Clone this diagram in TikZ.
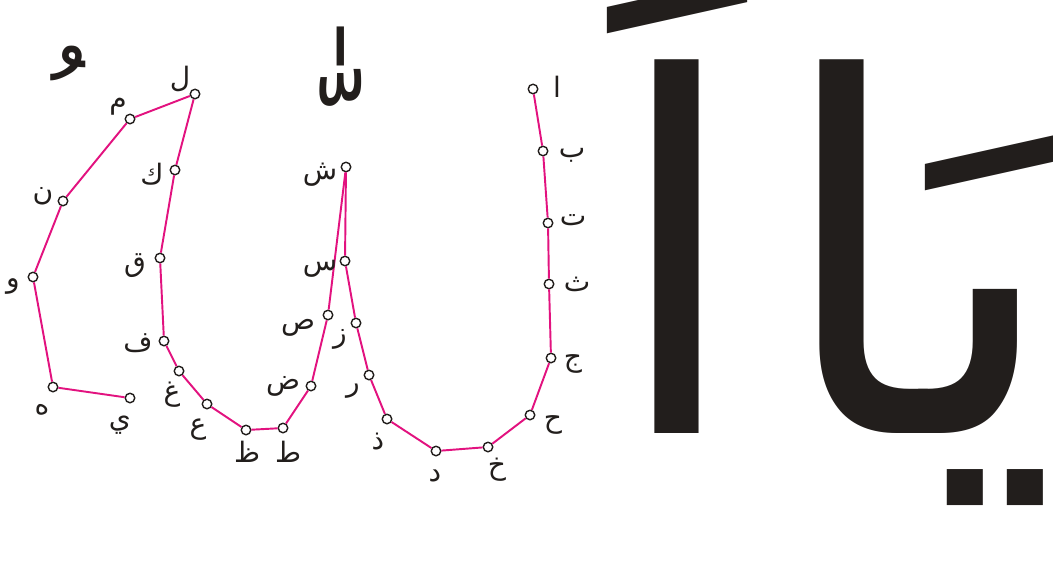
\documentclass[tikz,border=0pt]{standalone}
\usepackage{fontspec}
\newfontfamily\arabicfont[Script=Arabic]{DejaVu Sans}
\TeXXeTstate=1
\usepackage{xcolor}
\definecolor{DotPink}{HTML}{E2127F}
\definecolor{InkBlack}{HTML}{221E1C}
\usetikzlibrary{positioning}
\newcommand{\ar}[1]{{\arabicfont\beginR #1\endR}}

\begin{document}
\begin{tikzpicture}[x=0.02cm,y=-0.02cm, dot/.style={draw=InkBlack,circle,line width=0.8pt,inner sep=0pt,minimum size=0.19cm}, lbl/.style={font=\fontsize{16}{18}\selectfont,text=InkBlack,inner sep=0pt}, path/.style={draw=DotPink,line width=1.1pt}, big/.style={text=InkBlack,inner sep=0pt,anchor=base}]
\useasboundingbox (0,0) rectangle (1053,566);
% dots, in the order of the alphabet
\node[dot] (alif) at (533,89) {};
\node[dot] (baa) at (543,151) {};
\node[dot] (taa) at (548,223) {};
\node[dot] (thaa) at (549,284) {};
\node[dot] (jeem) at (551,358) {};
\node[dot] (haa) at (530,415) {};
\node[dot] (khaa) at (488,447) {};
\node[dot] (daal) at (436,451) {};
\node[dot] (thaal) at (387,419) {};
\node[dot] (raa) at (369,375) {};
\node[dot] (zay) at (356,323) {};
\node[dot] (seen) at (345,261) {};
\node[dot] (sheen) at (346,167) {};
\node[dot] (saad) at (328,315) {};
\node[dot] (daad) at (311,386) {};
\node[dot] (taah) at (283,428) {};
\node[dot] (zaah) at (246,430) {};
\node[dot] (ain) at (207,404) {};
\node[dot] (ghain) at (179,371) {};
\node[dot] (faa) at (164,341) {};
\node[dot] (qaaf) at (160,258) {};
\node[dot] (kaaf) at (175,170) {};
\node[dot] (laam) at (195,94) {};
\node[dot] (meem) at (130,119) {};
\node[dot] (noon) at (63,201) {};
\node[dot] (waw) at (33,277) {};
\node[dot] (hah) at (53,387) {};
\node[dot] (yaa) at (130,398) {};

\draw[path] (alif) -- (baa) -- (taa) -- (thaa) -- (jeem) -- (haa) -- (khaa) -- (daal) -- (thaal) -- (raa) -- (zay) -- (seen) -- (sheen);
\draw[path] (sheen) -- (saad) -- (daad) -- (taah) -- (zaah) -- (ain) -- (ghain) -- (faa) -- (qaaf) -- (kaaf) -- (laam);
\draw[path] (laam) -- (meem) -- (noon) -- (waw) -- (hah) -- (yaa);

% letter names next to the dots
\node[lbl] (alif-l) at ([shift={(24,-2)}]alif) {\ar{ا}};
\node[lbl] (baa-l) at ([shift={(29,4)}]baa) {\ar{ب}};
\node[lbl] (taa-l) at ([shift={(25,-3)}]taa) {\ar{ت}};
\node[lbl] (thaa-l) at ([shift={(28,0)}]thaa) {\ar{ث}};
\node[lbl] (jeem-l) at ([shift={(22,6)}]jeem) {\ar{ج}};
\node[lbl] (haa-l) at ([shift={(23,10)}]haa) {\ar{ح}};
\node[lbl] (khaa-l) at ([shift={(9,23)}]khaa) {\ar{خ}};
\node[lbl] (daal-l) at ([shift={(-1,25)}]daal) {\ar{د}};
\node[lbl] (thaal-l) at ([shift={(-9,23)}]thaal) {\ar{ذ}};
\node[lbl] (raa-l) at ([shift={(-16,16)}]raa) {\ar{ر}};
\node[lbl] (zay-l) at ([shift={(-16,16)}]zay) {\ar{ز}};
\node[lbl] (seen-l) at ([shift={(-25,8)}]seen) {\ar{س}};
\node[lbl] (sheen-l) at ([shift={(-26,8)}]sheen) {\ar{ش}};
\node[lbl] (saad-l) at ([shift={(-30,13)}]saad) {\ar{ص}};
\node[lbl] (daad-l) at ([shift={(-28,0)}]daad) {\ar{ض}};
\node[lbl] (taah-l) at ([shift={(5,24)}]taah) {\ar{ط}};
\node[lbl] (zaah-l) at ([shift={(1,22)}]zaah) {\ar{ظ}};
\node[lbl] (ain-l) at ([shift={(-9,26)}]ain) {\ar{ع}};
\node[lbl] (ghain-l) at ([shift={(-7,24)}]ghain) {\ar{غ}};
\node[lbl] (faa-l) at ([shift={(-26,2)}]faa) {\ar{ف}};
\node[lbl] (qaaf-l) at ([shift={(-25,8)}]qaaf) {\ar{ق}};
\node[lbl] (kaaf-l) at ([shift={(-23,4)}]kaaf) {\ar{ك}};
\node[lbl] (laam-l) at ([shift={(-15,-15)}]laam) {\ar{ل}};
\node[lbl] (meem-l) at ([shift={(-12,-12)}]meem) {\ar{م}};
\node[lbl] (noon-l) at ([shift={(-20,-5)}]noon) {\ar{ن}};
\node[lbl] (waw-l) at ([shift={(-20,9)}]waw) {\ar{و}};
\node[lbl] (hah-l) at ([shift={(-11,23)}]hah) {\ar{ه}};
\node[lbl] (yaa-l) at ([shift={(-10,27)}]yaa) {\ar{ي}};

% marks and the big word
\node[text=InkBlack] (shadda) at (306,108) {\fontsize{78}{78}\selectfont\arabicfont ^^^^200d^^^^0651^^^^0670};
\node[text=InkBlack] (damma) at (37,100) {\fontsize{70}{70}\selectfont\arabicfont ^^^^200d^^^^064f};
\node[big] (bigalif) at (677,433) {\fontsize{280}{280}\selectfont\ar{اَ}};
\node[big,anchor=base east] (bigyaa) at (1061,433) {\fontsize{280}{280}\selectfont\ar{يَا}};
\end{tikzpicture}
\end{document}
